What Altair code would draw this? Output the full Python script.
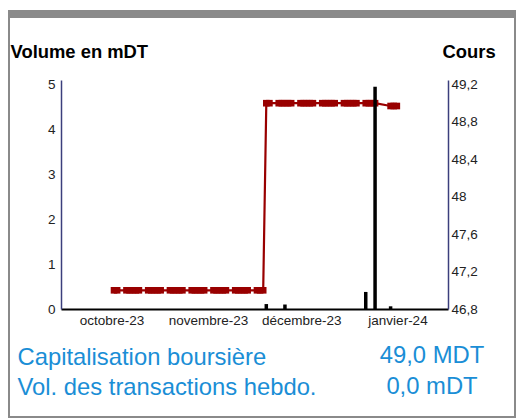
import altair as alt
import pandas as pd

# ---------------- data ----------------
PRICE_DATES = [
    "2023-10-05", "2023-10-06",
    "2023-10-09", "2023-10-10", "2023-10-11", "2023-10-12", "2023-10-13",
    "2023-10-16", "2023-10-17", "2023-10-18", "2023-10-19", "2023-10-20",
    "2023-10-23", "2023-10-24", "2023-10-25", "2023-10-26", "2023-10-27",
    "2023-10-30", "2023-10-31", "2023-11-01", "2023-11-02", "2023-11-03",
    "2023-11-06", "2023-11-07", "2023-11-08", "2023-11-09", "2023-11-10",
    "2023-11-13", "2023-11-14", "2023-11-15", "2023-11-16", "2023-11-17",
    "2023-11-20", "2023-11-21", "2023-11-22",
    "2023-11-23", "2023-11-24",
    "2023-11-27", "2023-11-28", "2023-11-29", "2023-11-30", "2023-12-01",
    "2023-12-04", "2023-12-05", "2023-12-06", "2023-12-07", "2023-12-08",
    "2023-12-11", "2023-12-12", "2023-12-13", "2023-12-14", "2023-12-15",
    "2023-12-18", "2023-12-19", "2023-12-20", "2023-12-21", "2023-12-22",
    "2023-12-25", "2023-12-26", "2023-12-27", "2023-12-28",
    "2024-01-02", "2024-01-03", "2024-01-04",
]
PRICE_VALUES = [
    47.0, 47.0,
    47.0, 47.0, 47.0, 47.0, 47.0,
    47.0, 47.0, 47.0, 47.0, 47.0,
    47.0, 47.0, 47.0, 47.0, 47.0,
    47.0, 47.0, 47.0, 47.0, 47.0,
    47.0, 47.0, 47.0, 47.0, 47.0,
    47.0, 47.0, 47.0, 47.0, 47.0,
    47.0, 47.0, 47.0,
    49.0, 49.0,
    49.0, 49.0, 49.0, 49.0, 49.0,
    49.0, 49.0, 49.0, 49.0, 49.0,
    49.0, 49.0, 49.0, 49.0, 49.0,
    49.0, 49.0, 49.0, 49.0, 49.0,
    49.0, 49.0, 49.0, 49.0,
    48.97, 48.97, 48.97,
]

VOL_DATES = ["2023-11-23", "2023-11-29", "2023-12-25", "2023-12-28", "2024-01-02"]
VOL_VALUES = [0.11, 0.10, 0.38, 4.95, 0.06]

MONTHS_FR = ["janvier", "février", "mars", "avril", "mai", "juin", "juillet",
             "août", "septembre", "octobre", "novembre", "décembre"]
X_TICKS = [(2023, 10), (2023, 11), (2023, 12), (2024, 1)]
VOL_TICKS = [0, 1, 2, 3, 4, 5]
PRICE_TICKS = [46.8, 47.2, 47.6, 48.0, 48.4, 48.8, 49.2]

TITLE_LEFT = "Volume en mDT"
TITLE_RIGHT = "Cours"
INFO_LABELS = ["Capitalisation boursière", "Vol. des transactions hebdo."]
INFO_VALUES = ["49,0 MDT", "0,0 mDT"]

# ---------------- styles ----------------
FONT = "Liberation Sans"
RED = "#990000"
BLUE = "#1a8ed6"
NAVY = "#3b3f7c"
FRAME = "#8a8a8a"
W, H = 387, 229

price_df = pd.DataFrame({"date": PRICE_DATES, "price": PRICE_VALUES})
vol_df = pd.DataFrame({"date": VOL_DATES, "vol": VOL_VALUES})

month_js = "[" + ",".join("'" + m + "'" for m in MONTHS_FR) + "]"

x_enc = alt.X(
    "date:T",
    scale=alt.Scale(
        type="utc",
        domain=[
            alt.DateTime(year=2023, month=9, date=19, hours=13, minutes=5, utc=True),
            alt.DateTime(year=2024, month=1, date=18, hours=20, minutes=38, utc=True),
        ],
    ),
    axis=alt.Axis(
        title=None,
        values=[alt.DateTime(year=y, month=m, date=1, utc=True) for (y, m) in X_TICKS],
        labelExpr=month_js + "[utcmonth(datum.value)] + '-' + utcFormat(datum.value, '%y')",
        labelOffset=10,
        labelPadding=4,
        labelFont=FONT,
        labelFontSize=13.5,
        labelColor="#222222",
        ticks=False,
        tickSize=0,
        grid=False,
        domainColor="black",
        domainWidth=2,
        labelFlush=False,
        labelOverlap=False,
    ),
)

line = alt.Chart(price_df).mark_line(
    color=RED,
    strokeWidth=2.2,
    point=alt.OverlayMarkDef(shape="square", size=44, filled=True, color=RED, opacity=1),
).encode(
    x=x_enc,
    y=alt.Y(
        "price:Q",
        scale=alt.Scale(domain=[46.8, 49.248], nice=False, zero=False),
        axis=alt.Axis(
            orient="right",
            values=PRICE_TICKS,
            labelExpr="replace(format(datum.value, '.1~f'), '.', ',')",
            labelPadding=3,
            labelFont=FONT,
            labelFontSize=13.5,
            labelColor="#222222",
            ticks=False,
            tickSize=0,
            grid=False,
            domainColor=NAVY,
            domainWidth=1.5,
            title=TITLE_RIGHT,
            titleAngle=0,
            titleAlign="left",
            titleBaseline="alphabetic",
            titleX=-6,
            titleY=-23,
            titleFont=FONT,
            titleFontSize=18.4,
            titleFontWeight="bold",
            titleColor="black",
            labelOverlap=False,
        ),
    ),
)

bars = alt.Chart(vol_df).mark_bar(size=3.5, color="black").encode(
    x=x_enc,
    y=alt.Y(
        "vol:Q",
        scale=alt.Scale(domain=[0, 5.1], nice=False, zero=True),
        axis=alt.Axis(
            orient="left",
            values=VOL_TICKS,
            labelPadding=6,
            labelFont=FONT,
            labelFontSize=13.5,
            labelColor="#222222",
            ticks=False,
            tickSize=0,
            grid=False,
            domainColor=NAVY,
            domainWidth=1.5,
            title=TITLE_LEFT,
            titleAngle=0,
            titleAlign="left",
            titleBaseline="alphabetic",
            titleX=-51,
            titleY=-23,
            titleFont=FONT,
            titleFontSize=18.4,
            titleFontWeight="bold",
            titleColor="black",
            labelOverlap=False,
        ),
    ),
)

one = pd.DataFrame({"k": [0]})

def frame_rect(x1, x2, y1, y2):
    return alt.Chart(one).mark_rect(color=FRAME).encode(
        x=alt.value(x1), x2=alt.value(x2), y=alt.value(y1), y2=alt.value(y2)
    )

frame = [
    frame_rect(-53, 455, -70, -62),   # top band
    frame_rect(-53, -51, -70, 338),   # left band
    frame_rect(453, 455, -70, 338),   # right line
    frame_rect(-53, 455, 336, 338),   # bottom line
]

def info_text(txt, x, y, align):
    return alt.Chart(pd.DataFrame({"t": [txt]})).mark_text(
        align=align, baseline="alphabetic", font=FONT, fontSize=23.8, color=BLUE
    ).encode(text="t:N", x=alt.value(x), y=alt.value(y))

texts = [
    info_text(INFO_LABELS[0], 17.5 - 61, 364.5 - 80, "left"),
    info_text(INFO_LABELS[1], 17.5 - 61, 395 - 80, "left"),
    info_text(INFO_VALUES[0], 432 - 61, 363 - 80, "center"),
    info_text(INFO_VALUES[1], 432 - 61, 394 - 80, "center"),
]

chart = alt.layer(*frame, line, bars, *texts).resolve_scale(
    y="independent"
).properties(
    width=W,
    height=H,
    padding={"left": 53, "top": 72, "right": 68, "bottom": 109},
    autosize=alt.AutoSizeParams(type="none"),
    background="white",
).configure_view(strokeWidth=0)

chart.save("out.html", embed_options={"renderer": "svg", "actions": False})
